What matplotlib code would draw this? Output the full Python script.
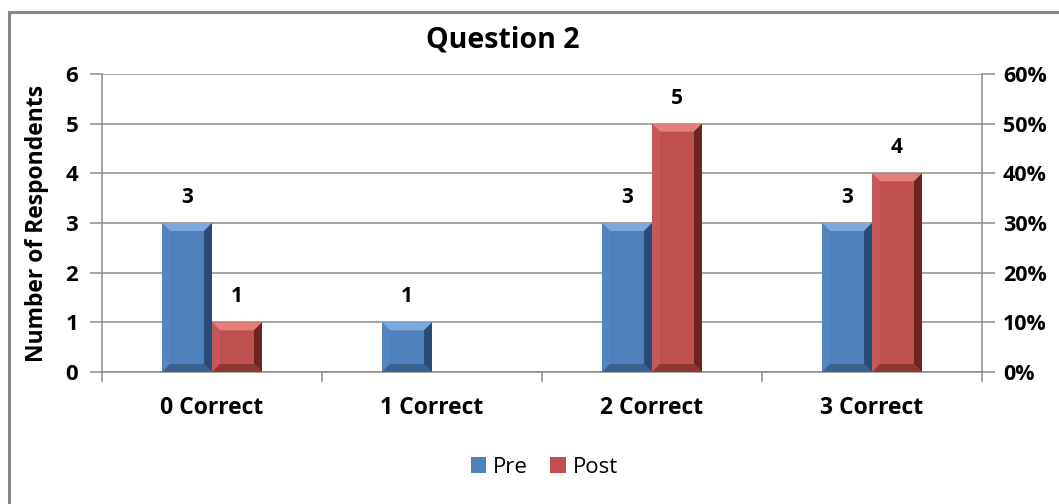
import matplotlib
matplotlib.use('Agg')
import matplotlib.pyplot as plt
from matplotlib.patches import Polygon, Rectangle
from matplotlib.ticker import FuncFormatter

# data
categories = ['0 Correct', '1 Correct', '2 Correct', '3 Correct']
pre = [3, 1, 3, 3]
post = [1, 0, 5, 4]

plt.rcParams['font.family'] = ['Open Sans', 'DejaVu Sans']

fig = plt.figure(figsize=(10.59, 5.04), dpi=100)
ax = fig.add_axes([0.0963, 0.2619, 0.831, 0.5913])

# outer chart frame
fig.patches.append(Rectangle((9 / 1059, -0.01), 1.1, 1 - 12 / 504 + 0.01, transform=fig.transFigure,
                             fill=False, edgecolor='#878787', linewidth=2.2))

w = 0.227
x = list(range(len(categories)))
face = {'pre': '#4F81BD', 'post': '#C0504D'}
shades = {'pre': ('#7FA8DD', '#5385C2', '#2A4A74', '#3A6090'),
          'post': ('#E3807D', '#C85855', '#6A2422', '#8E3633')}

def bevel(ax, rect, key):
    x0, y0 = rect.get_x(), rect.get_y()
    x1, y1 = x0 + rect.get_width(), y0 + rect.get_height()
    if y1 - y0 <= 0:
        return
    bx = 0.036
    by = min(0.16, (y1 - y0) / 2)
    top, left, right, bottom = shades[key]
    ax.add_patch(Polygon([(x0, y1), (x1, y1), (x1 - bx, y1 - by), (x0 + bx, y1 - by)], closed=True,
                         facecolor=top, edgecolor='none', zorder=3))
    ax.add_patch(Polygon([(x0, y0), (x0, y1), (x0 + bx, y1 - by), (x0 + bx, y0 + by)], closed=True,
                         facecolor=left, edgecolor='none', zorder=3))
    ax.add_patch(Polygon([(x1, y0), (x1, y1), (x1 - bx, y1 - by), (x1 - bx, y0 + by)], closed=True,
                         facecolor=right, edgecolor='none', zorder=3))
    ax.add_patch(Polygon([(x0, y0), (x1, y0), (x1 - bx, y0 + by), (x0 + bx, y0 + by)], closed=True,
                         facecolor=bottom, edgecolor='none', zorder=3))

b1 = ax.bar([i - w / 2 for i in x], pre, w, color=face['pre'], zorder=2, label='Pre')
b2 = ax.bar([i + w / 2 for i in x], post, w, color=face['post'], zorder=2, label='Post')
for r in b1:
    bevel(ax, r, 'pre')
for r in b2:
    bevel(ax, r, 'post')

# data labels
for r, v in zip(b1, pre):
    ax.text(r.get_x() + r.get_width() / 2, v + 0.3, str(v), ha='center', va='bottom',
            fontsize=15, fontweight='bold')
for r, v in zip(b2, post):
    if v > 0:
        ax.text(r.get_x() + r.get_width() / 2, v + 0.3, str(v), ha='center', va='bottom',
                fontsize=15, fontweight='bold')

gc = '#8C8C8C'
ax.set_xlim(-0.5, 3.5)
ax.set_ylim(0, 6)
ax.set_yticks(range(0, 7))
ax.yaxis.grid(True, color=gc, linewidth=1.1, zorder=0)
ax.set_axisbelow(True)
ax.set_xticks(x)
ax.set_xticklabels(categories, fontsize=16.5, fontweight='bold')
ax.set_xticks([-0.5, 0.5, 1.5, 2.5, 3.5], minor=True)
ax.tick_params(axis='x', which='major', length=0, pad=17)
ax.tick_params(axis='x', which='minor', length=7, color=gc, width=1.1)
ax.tick_params(axis='y', length=9, color=gc, width=1.1, labelsize=16, pad=8)
for lab in ax.get_yticklabels():
    lab.set_fontweight('bold')
for s in ['top', 'right']:
    ax.spines[s].set_visible(False)
for s in ['left', 'bottom']:
    ax.spines[s].set_color(gc)
    ax.spines[s].set_linewidth(1.1)
ax.set_ylabel('Number of Respondents', fontsize=16.5, fontweight='bold', labelpad=12)

ax2 = ax.twinx()
ax2.set_ylim(0, 0.6)
ax2.set_yticks([i / 10 for i in range(7)])
ax2.yaxis.set_major_formatter(FuncFormatter(lambda v, p: '%d%%' % round(v * 100)))
ax2.tick_params(axis='y', length=9, color=gc, width=1.1, labelsize=15.5, pad=6)
for lab in ax2.get_yticklabels():
    lab.set_fontweight('bold')
for s in ['top', 'left', 'bottom']:
    ax2.spines[s].set_visible(False)
ax2.spines['right'].set_color(gc)
ax2.spines['right'].set_linewidth(1.1)

fig.text(0.475, 0.92, 'Question 2', ha='center', va='center', fontsize=20.5, fontweight='bold')

leg = fig.legend(handles=[b1, b2], labels=['Pre', 'Post'], loc='center', bbox_to_anchor=(0.514, 0.073),
                 ncol=2, frameon=False, fontsize=16, handlelength=0.7, handleheight=0.7,
                 handletextpad=0.3, columnspacing=1.0)

fig.savefig('out.png', dpi=100)
